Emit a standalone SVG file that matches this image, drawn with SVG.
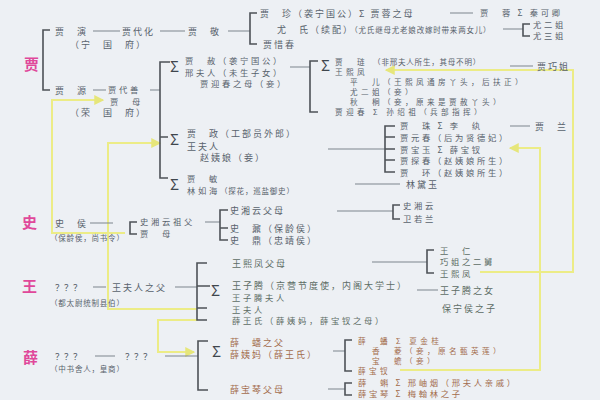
<svg xmlns="http://www.w3.org/2000/svg" width="600" height="400" viewBox="0 0 600 400">
<style>
text{font-family:"Noto Sans CJK SC","Noto Sans",sans-serif;font-size:9px;letter-spacing:2px;fill:#58626c}
.c{font-size:8.3px;letter-spacing:2.7px}
.cc{font-size:7.6px;letter-spacing:3.4px}
.s{font-size:7.5px;letter-spacing:0.8px}
.sig{font-size:15px;letter-spacing:0;fill:#3f464d}
.ttl{font-size:15px;font-weight:bold;letter-spacing:0;fill:#e0489a}
.bw{fill:#a36c4c}
.g{fill:#5c6c64}
.q{letter-spacing:0}
.br{fill:none;stroke:#4d5257;stroke-width:1.6}
.ln{fill:none;stroke:#7d858d;stroke-width:1}
.y{fill:none;stroke:#ecec86;stroke-width:2}
</style>
<defs>
<marker id="ya" viewBox="0 0 8 8" refX="7" refY="4" markerWidth="5" markerHeight="5" orient="auto"><path d="M0,0 L8,4 L0,8 z" fill="#e6e67a"/></marker>
</defs>
<rect width="600" height="400" fill="#edf0f4"/>

<g id="connectors">
<path class="y" d="M125,233 H52 V100 H103" marker-end="url(#ya)"/>
<path class="y" d="M197,309 H108 V143 H160" marker-end="url(#ya)"/>
<path class="y" d="M198,320 H158 V352 H194" marker-end="url(#ya)"/>
<path class="y" d="M480,272 H573 V70 H386" marker-end="url(#ya)"/>
<path class="y" d="M400,370 H540 V148 H510" marker-end="url(#ya)"/>
<path class="ln" d="M93,31 H120 M160,31 H185 M228,31 H250 M450,13 H473 M503,29 H523"/>
<path class="ln" d="M93,90 H106 M150,90 H160 M290,67 H310 M510,66 H533 M328,149 H385 M510,126 H530 M355,184 H400"/>
<path class="ln" d="M90,223 H113 M205,222 H220 M337,211 H393"/>
<path class="ln" d="M93,287 H106 M175,287 H197 M372,262 H427 M417,290 H438"/>
<path class="ln" d="M95,356 H115 M165,356 H198 M333,351 H345 M328,389 H345"/>
</g>

<g id="jia">
<text class="ttl" x="24" y="70">贾</text>
<path class="br" d="M50,30 H43 V90 H50"/>
<text x="55" y="35">贾　演</text>
<text x="122" y="35">贾代化</text>
<text x="188" y="35">贾　敬</text>
<text x="70" y="48">（宁　国　府）</text>
<path class="br" d="M257,13 H250 V44 H257"/>
<text x="260" y="17">贾　珍（袭宁国公）Σ 贾蓉之母</text>
<text x="277" y="33">尤　氏（续配）<tspan class="s">（尤氏继母尤老娘改嫁时带来两女儿）</tspan></text>
<text x="263" y="48">贾惜春</text>
<text class="c" x="480" y="16">贾　蓉 Σ 秦可卿</text>
<path class="br" d="M530,24 H523 V36 H530"/>
<text class="c" x="533" y="28">尤二姐</text>
<text class="c" x="533" y="39">尤三姐</text>
<text x="55" y="94">贾　源</text>
<text class="c" x="108" y="93">贾代善</text>
<text class="c" x="110" y="105">贾　母</text>
<text x="70" y="116">（荣　国　府）</text>
<path class="br" d="M170,62 H160 V178 H168 M160,137 H168"/>
</g>

<g id="jia-she">
<text class="sig" x="170" y="72">Σ</text>
<text class="c" x="185" y="64">贾　赦（袭宁国公）</text>
<text class="c" x="185" y="76">邢夫人（未生子女）</text>
<text class="c" x="200" y="87">贾迎春之母（妾）</text>
<path class="br" d="M318,61 H310 V112 H318"/>
<text class="sig" x="321" y="71">Σ</text>
<text class="cc" x="335" y="65">贾　琏 <tspan class="s">（非邢夫人所生，其母不明）</tspan></text>
<text x="537" y="70">贾巧姐</text>
<text class="cc" x="335" y="75">王熙凤</text>
<text class="cc" x="350" y="85">平　儿（王熙凤通房丫头，后扶正）</text>
<text class="cc" x="350" y="95">尤二姐（妾）</text>
<text class="cc" x="350" y="105">秋　桐（妾，原来是贾赦丫头）</text>
<text class="cc" x="335" y="115">贾迎春 Σ 孙绍祖（兵部指挥）</text>
</g>

<g id="jia-zheng">
<text class="sig" x="170" y="145">Σ</text>
<text x="187" y="137">贾　政（工部员外郎）</text>
<text x="187" y="150">王夫人</text>
<text x="200" y="161">赵姨娘（妾）</text>
<path class="br" d="M395,126 H385 V172 H395 M385,137 H395 M385,149 H395 M385,160 H395"/>
<text class="c" x="400" y="129">贾　珠 Σ 李　纨</text>
<text x="535" y="130">贾　兰</text>
<text class="c" x="400" y="141">贾元春（后为贤德妃）</text>
<text class="c" x="400" y="153">贾宝玉 Σ 薛宝钗</text>
<text class="c" x="400" y="164">贾探春（赵姨娘所生）</text>
<text class="c" x="400" y="176">贾　环（赵姨娘所生）</text>
</g>

<g id="jia-min">
<text class="sig" x="170" y="190">Σ</text>
<text class="c" x="187" y="182">贾　敏</text>
<text class="c" x="187" y="194">林如海<tspan class="s">（探花，巡盐御史）</tspan></text>
<text x="406" y="188">林黛玉</text>
</g>

<g id="shi">
<text class="ttl" x="22" y="228">史</text>
<text x="55" y="227">史　侯</text>
<text class="s" x="50" y="241">（保龄侯，尚书令）</text>
<path class="br" d="M137,222 H130 V234 H137"/>
<text class="c" x="140" y="225">史湘云祖父</text>
<text class="c" x="140" y="237">贾　母</text>
<path class="br" d="M228,210 H220 V240 H228 M220,228 H228"/>
<text x="230" y="214">史湘云父母</text>
<text x="230" y="232">史　鼐（保龄侯）</text>
<text x="230" y="244">史　鼎（忠靖侯）</text>
<path class="br" d="M400,205 H393 V219 H400"/>
<text class="c" x="403" y="209">史湘云</text>
<text class="c" x="403" y="222">卫若兰</text>
</g>

<g id="wang">
<text class="ttl" x="22" y="292">王</text>
<text class="q" x="55" y="291">？？？</text>
<text x="112" y="291">王夫人之父</text>
<text class="s" x="50" y="306">（都太尉统制县伯）</text>
<path class="br" d="M207,263 H197 V320 H207 M197,286 H210 M197,308 H207"/>
<text class="sig" x="211" y="296">Σ</text>
<text class="g" x="232" y="267">王熙凤父母</text>
<text class="g" x="232" y="289">王子腾（京营节度使，内阁大学士）</text>
<text class="g c" x="232" y="301">王子腾夫人</text>
<text class="g c" x="232" y="313">王夫人</text>
<text class="g c" x="232" y="324">薛王氏（薛姨妈，薛宝钗之母）</text>
<path class="br" d="M434,250 H427 V273 H434"/>
<text class="g c" x="440" y="254">王　仁</text>
<text class="g c" x="440" y="265">巧姐之二舅</text>
<text class="g c" x="440" y="277">王熙凤</text>
<text class="g" x="440" y="294">王子腾之女</text>
<text class="g" x="442" y="312">保宁侯之子</text>
</g>

<g id="xue">
<text class="ttl" x="23" y="363">薛</text>
<text class="q" x="55" y="360">？？？</text>
<text class="q" x="125" y="360">？？？</text>
<text class="s" x="50" y="372">（中书舍人，皇商）</text>
<path class="br" d="M208,341 H198 V390 H208"/>
<text class="sig" x="212" y="357">Σ</text>
<text class="bw" x="230" y="346">薛　蟠之父</text>
<text class="bw" x="230" y="358">薛姨妈（薛王氏）</text>
<text class="bw" x="230" y="393">薛宝琴父母</text>
<path class="br" d="M352,340 H345 V371 H352"/>
<text class="bw cc" x="358" y="344">薛　蟠 Σ 夏金桂</text>
<text class="bw cc" x="372" y="354">香　菱（妾，原名甄英莲）</text>
<text class="bw cc" x="372" y="364">宝　蟾（妾）</text>
<text class="bw cc" x="358" y="374">薛宝钗</text>
<path class="br" d="M352,383 H345 V395 H352"/>
<text class="bw c" x="358" y="386">薛　蝌 Σ 邢岫烟（邢夫人亲戚）</text>
<text class="bw c" x="358" y="397">薛宝琴 Σ 梅翰林之子</text>
</g>
</svg>
